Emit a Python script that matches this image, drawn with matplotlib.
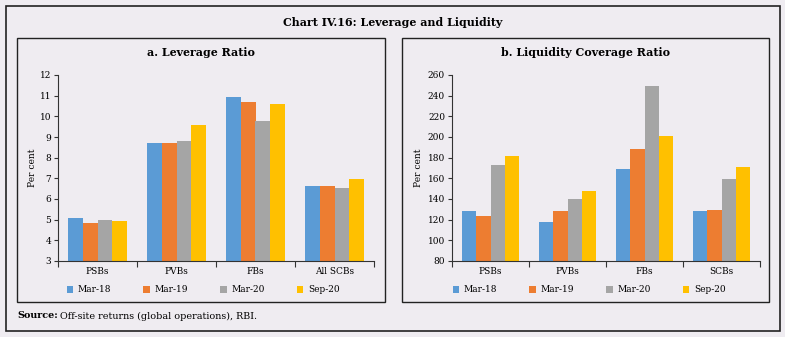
import numpy as np
import matplotlib
matplotlib.use("Agg")
import matplotlib.pyplot as plt
from matplotlib.patches import Rectangle

plt.rcParams['font.family'] = 'DejaVu Serif'

periods = ['Mar-18', 'Mar-19', 'Mar-20', 'Sep-20']
colors = ['#5b9bd5', '#ed7d31', '#a5a5a5', '#ffc000']
bg = '#efecf1'

# a. Leverage ratio
lev_groups = ['PSBs', 'PVBs', 'FBs', 'All SCBs']
lev_mar18 = [5.07, 8.70, 10.93, 6.65]
lev_mar19 = [4.83, 8.72, 10.69, 6.61]
lev_mar20 = [4.99, 8.80, 9.79, 6.54]
lev_sep20 = [4.94, 9.58, 10.60, 6.98]

# b. Liquidity coverage ratio
lcr_groups = ['PSBs', 'PVBs', 'FBs', 'SCBs']
lcr_mar18 = [128, 118, 169, 128]
lcr_mar19 = [124, 128, 188, 129]
lcr_mar20 = [173, 140, 249, 159]
lcr_sep20 = [182, 148, 201, 171]

W, H = 785, 337
fig = plt.figure(figsize=(W / 100, H / 100), dpi=100, facecolor=bg)


def box(x0, y0, x1, y1, lw=1.2):
    fig.patches.append(Rectangle((x0 / W, 1 - y1 / H), (x1 - x0) / W, (y1 - y0) / H,
                                 transform=fig.transFigure, fill=False,
                                 edgecolor='#222222', linewidth=lw))


box(6, 6, 780, 331)
box(17, 38, 385, 302, lw=1.0)
box(402, 38, 769, 302, lw=1.0)

fig.text(393 / W, 1 - 22 / H, 'Chart IV.16: Leverage and Liquidity', ha='center', va='center',
         fontsize=7.9, fontweight='bold')
fig.text(201 / W, 1 - 53 / H, 'a. Leverage Ratio', ha='center', va='center',
         fontsize=7.9, fontweight='bold')
fig.text(586 / W, 1 - 53 / H, 'b. Liquidity Coverage Ratio', ha='center', va='center',
         fontsize=7.9, fontweight='bold')
fig.text(17 / W, 1 - 316 / H, 'Source:', ha='left', va='center', fontsize=6.9,
         fontweight='bold')
fig.text(60 / W, 1 - 316 / H, 'Off-site returns (global operations), RBI.', ha='left',
         va='center', fontsize=6.9)


def panel(rect, groups, series, ylim, step, ylab_x, legend_x):
    ax = fig.add_axes(rect)
    ax.set_facecolor(bg)
    x = np.arange(len(groups))
    bw = 0.185
    for i, (vals, c, lab) in enumerate(zip(series, colors, periods)):
        ax.bar(x + (i - 1.5) * bw, vals, width=bw, color=c, label=lab, zorder=2)
    ax.set_xlim(-0.5, len(groups) - 0.5)
    ax.set_ylim(*ylim)
    ax.set_yticks(np.arange(ylim[0], ylim[1] + step / 2, step))
    ax.set_xticks(np.arange(-0.5, len(groups), 1.0))
    ax.set_xticklabels([])
    ax.set_xticks(x, minor=True)
    ax.set_xticklabels(groups, minor=True)
    ax.tick_params(axis='x', which='major', length=4, width=0.8, color='#333333')
    ax.tick_params(axis='x', which='minor', length=0, labelsize=6.5, pad=4)
    ax.tick_params(axis='y', length=3, width=0.8, labelsize=6.5, pad=2, color='#333333')
    for s in ['top', 'right']:
        ax.spines[s].set_visible(False)
    for s in ['left', 'bottom']:
        ax.spines[s].set_color('#333333')
        ax.spines[s].set_linewidth(0.8)
    ax.set_ylabel('Per cent', fontsize=6.5)
    ax.yaxis.set_label_coords(ylab_x, 0.5)
    ax.legend(loc='center', bbox_to_anchor=(legend_x / W, 1 - 290 / H),
              bbox_transform=fig.transFigure, ncol=4, frameon=False,
              fontsize=6.5, handlelength=0.7, handleheight=0.7, columnspacing=3.6,
              handletextpad=0.5)
    return ax


panel([58 / W, 1 - 261 / H, (374 - 58) / W, 186 / H], lev_groups,
      [lev_mar18, lev_mar19, lev_mar20, lev_sep20], (3, 12), 1, -0.065, 203)
panel([452 / W, 1 - 261 / H, (760 - 452) / W, 186 / H], lcr_groups,
      [lcr_mar18, lcr_mar19, lcr_mar20, lcr_sep20], (80, 260), 20, -0.095, 589)

fig.savefig('out.png', dpi=100, facecolor=bg)
